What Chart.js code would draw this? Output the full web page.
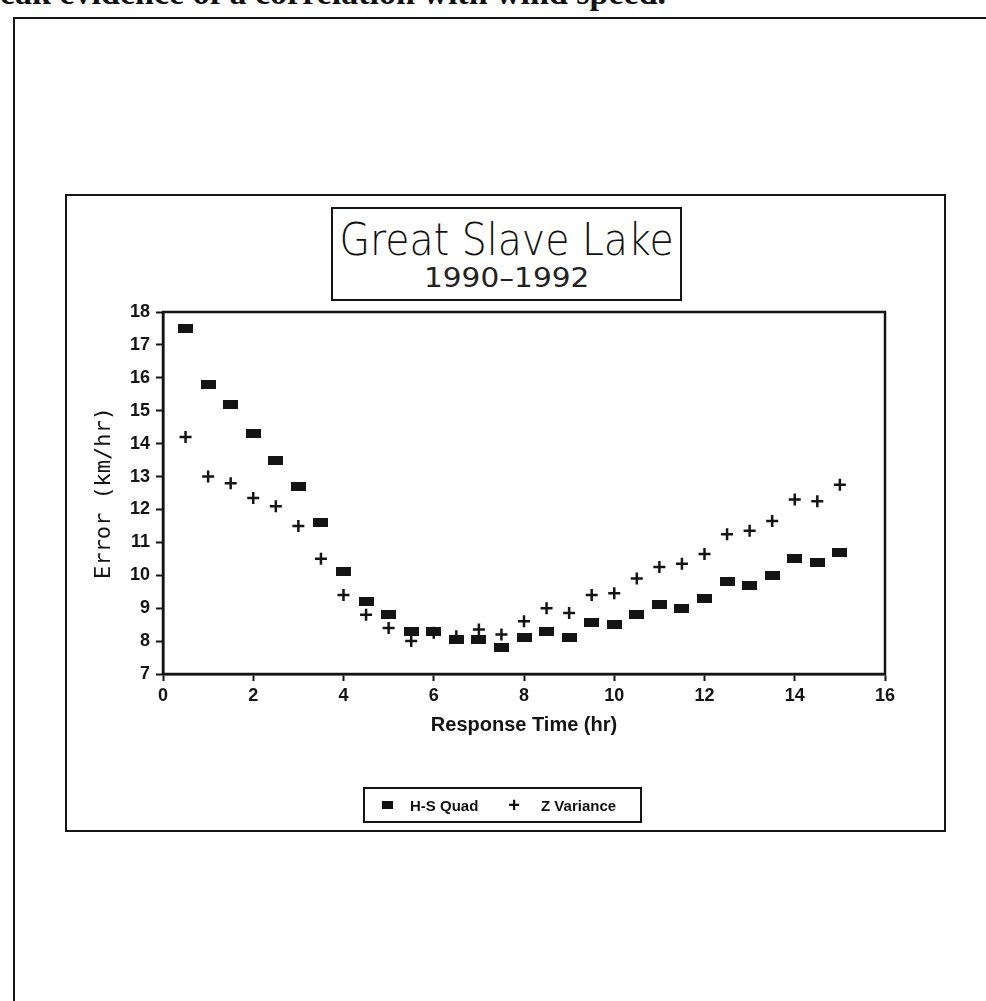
<!DOCTYPE html>
<html lang="en">

<head>
  <meta charset="UTF-8">
  <meta name="viewport" content="width=device-width, initial-scale=1.0">
  <title>Great Slave Lake</title>
  <script src="https://cdn.jsdelivr.net/npm/chart.js"></script>
  <style>
    body { margin: 0; background: #fff; }
    #page { position: relative; width: 986px; height: 1001px; overflow: hidden; background: #fff; }
    .sentence {
      position: absolute; left: 0; top: -24px; white-space: nowrap;
      font: bold 34px "Liberation Serif", serif; color: #111; line-height: 34px;
    }
    .frame { position: absolute; border: 2.5px solid #151515; }
    .outer { left: 13px; top: 17px; width: 1000px; height: 1100px; }
    .inner { left: 65px; top: 194px; width: 877px; height: 634px; }
    .titlebox {
      position: absolute; left: 331px; top: 207px; width: 347px; height: 90px;
      border: 2px solid #151515; color: #111;
      font-family: "DejaVu Sans", sans-serif;
    }
    .titlebox div { position: absolute; left: -150px; width: 647px; text-align: center; white-space: nowrap; }
    .titlebox span { display: inline-block; transform-origin: center; }
    .titlebox .t1 { top: 9px; font-size: 44px; line-height: 44px; font-weight: 200; }
    .titlebox .t2 { top: 56px; font-size: 26px; line-height: 26px; font-weight: normal; color: #222; }
    .legendbox {
      position: absolute; left: 363px; top: 787px; width: 275px; height: 32px;
      border: 2px solid #151515; display: flex; align-items: center;
      font: bold 15px "Liberation Sans", sans-serif; color: #111;
    }
    .legendbox .mk-rect { display: inline-block; width: 11px; height: 8px; background: #111; margin: 0 17px 0 17px; }
    .legendbox .mk-plus { font-size: 20px; margin: 0 21px 0 30px; }
    #chart { position: absolute; left: 0; top: 0; }
  </style>
</head>

<body>
  <div id="page">
    <div class="sentence">eak evidence of a correlation with wind speed.</div>
    <div class="frame outer"></div>
    <div class="frame inner"></div>
    <div class="titlebox">
      <div class="t1"><span id="t1">Great Slave Lake</span></div>
      <div class="t2"><span id="t2">1990–1992</span></div>
    </div>
    <canvas id="chart" width="986" height="1001"></canvas>
    <div class="legendbox" id="legend"></div>
  </div>
</body>

</html>
<script>
  var responseTimes = [0.5, 1, 1.5, 2, 2.5, 3, 3.5, 4, 4.5, 5, 5.5, 6, 6.5, 7, 7.5,
    8, 8.5, 9, 9.5, 10, 10.5, 11, 11.5, 12, 12.5, 13, 13.5, 14, 14.5, 15];
  var hsQuad = [17.5, 15.8, 15.2, 14.3, 13.5, 12.7, 11.6, 10.1, 9.2, 8.8, 8.3, 8.3, 8.05, 8.05, 7.8,
    8.1, 8.3, 8.1, 8.55, 8.5, 8.8, 9.1, 9.0, 9.3, 9.8, 9.7, 10.0, 10.5, 10.4, 10.7];
  var zVariance = [14.2, 13.0, 12.8, 12.35, 12.1, 11.5, 10.5, 9.4, 8.8, 8.4, 8.0, 8.25, 8.15, 8.35, 8.2,
    8.6, 9.0, 8.85, 9.4, 9.45, 9.9, 10.25, 10.35, 10.65, 11.25, 11.35, 11.65, 12.3, 12.25, 12.75];
  var seriesNames = ['H-S Quad', 'Z Variance'];
  var xTicks = [0, 2, 4, 6, 8, 10, 12, 14, 16];
  var yTicks = [7, 8, 9, 10, 11, 12, 13, 14, 15, 16, 17, 18];

  var ink = '#141414';

  // squeeze the title lines to the width of the plotter lettering
  function fitWidth(id, w) {
    var el = document.getElementById(id);
    el.style.transform = 'scaleX(' + (w / el.offsetWidth) + ')';
  }
  fitWidth('t1', 334);
  fitWidth('t2', 165);

  // filled bar-shaped marker like the plotter squares
  var rectMark = document.createElement('canvas');
  rectMark.width = 15;
  rectMark.height = 9;
  var rc = rectMark.getContext('2d');
  rc.fillStyle = ink;
  rc.fillRect(0, 0, 15, 9);

  function toPoints(ys) {
    var pts = [];
    for (var i = 0; i < responseTimes.length; i++) {
      pts.push({ x: responseTimes[i], y: ys[i] });
    }
    return pts;
  }

  const plotBox = {
    id: 'plotBox',
    afterDraw(chart) {
      const { ctx, chartArea: a } = chart;
      ctx.save();
      ctx.strokeStyle = ink;
      ctx.lineWidth = 2.5;
      ctx.strokeRect(a.left, a.top, a.right - a.left, a.bottom - a.top);
      ctx.restore();
    }
  };

  const tx = document.getElementById('chart');

  new Chart(tx, {
    type: 'scatter',
    data: {
      datasets: [{
        label: seriesNames[0],
        data: toPoints(hsQuad),
        pointStyle: rectMark,
        backgroundColor: ink,
        borderColor: ink
      }, {
        label: seriesNames[1],
        data: toPoints(zVariance),
        pointStyle: 'cross',
        pointRadius: 6,
        borderWidth: 2.5,
        borderColor: ink,
        backgroundColor: ink
      }]
    },
    options: {
      responsive: false,
      animation: false,
      layout: { padding: { left: 90, right: 101, top: 312, bottom: 257 } },
      plugins: {
        legend: { display: false },
        tooltip: { enabled: false }
      },
      scales: {
        x: {
          type: 'linear',
          min: 0,
          max: 16,
          afterFit: function (scale) { scale.height = 70; },
          afterBuildTicks: function (scale) { scale.ticks = xTicks.map(v => ({ value: v })); },
          border: { display: true, color: ink, width: 2.5 },
          grid: { drawOnChartArea: false, drawTicks: true, tickLength: 7, tickWidth: 2, tickColor: ink },
          ticks: { color: ink, padding: 4, maxRotation: 0, font: { family: 'Liberation Sans', size: 18, weight: 'bold' } },
          title: {
            display: true,
            text: 'Response Time (hr)',
            color: ink,
            padding: { top: 0, bottom: 7 },
            font: { family: 'Liberation Sans', size: 20, weight: 'bold' }
          }
        },
        y: {
          type: 'linear',
          min: 7,
          max: 18,
          afterFit: function (scale) { scale.width = 73; },
          afterBuildTicks: function (scale) { scale.ticks = yTicks.map(v => ({ value: v })); },
          border: { display: true, color: ink, width: 2.5 },
          grid: { drawOnChartArea: false, drawTicks: true, tickLength: 7, tickWidth: 2, tickColor: ink },
          ticks: { color: ink, padding: 6, font: { family: 'Liberation Sans', size: 18, weight: 'bold' } },
          title: {
            display: true,
            text: 'Error (km/hr)',
            color: ink,
            padding: { top: 1, bottom: 1 },
            font: { family: 'DejaVu Sans Mono', size: 22 }
          }
        }
      }
    },
    plugins: [plotBox]
  });

  // legend box under the axis, same names as the datasets
  document.getElementById('legend').innerHTML =
    '<span class="mk-rect"></span><span>' + seriesNames[0] + '</span>' +
    '<span class="mk-plus">+</span><span>' + seriesNames[1] + '</span>';
</script>
